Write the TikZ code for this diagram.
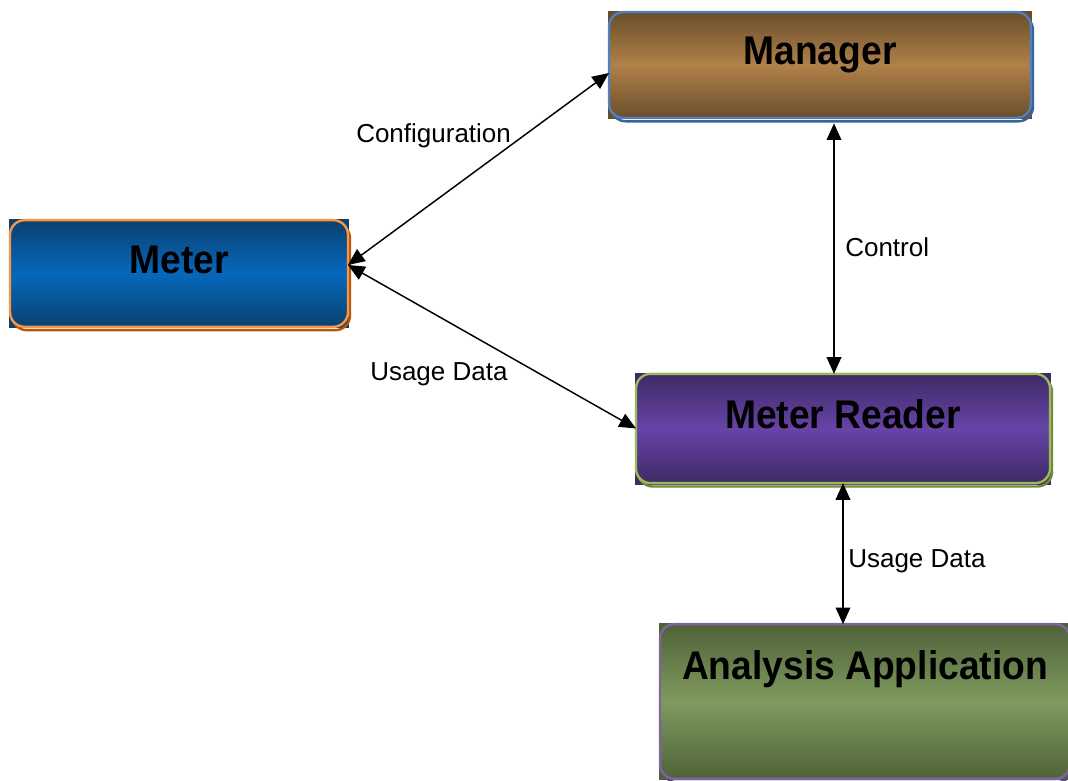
\documentclass[tikz,border=0pt]{standalone}
\usepackage{fontspec}
\setmainfont{Liberation Sans}
\newfontfamily\boxfont[FakeStretch=0.93]{Liberation Sans}
\usetikzlibrary{arrows.meta,backgrounds,positioning}
\definecolor{mandark}{HTML}{6A4E2B}
\definecolor{manmid}{HTML}{B0814A}
\definecolor{manline}{HTML}{4F81BD}
\definecolor{manshad}{HTML}{3A6296}
\definecolor{metdark}{HTML}{0A416F}
\definecolor{metmid}{HTML}{0668BC}
\definecolor{metline}{HTML}{F79646}
\definecolor{metshad}{HTML}{B65708}
\definecolor{mrdark}{HTML}{3F2966}
\definecolor{mrmid}{HTML}{6744A6}
\definecolor{mrline}{HTML}{9BBB59}
\definecolor{mrshad}{HTML}{71893F}
\definecolor{aadark}{HTML}{4F6238}
\definecolor{aamid}{HTML}{7F9B5F}
\definecolor{aaline}{HTML}{8064A2}
\definecolor{aashad}{HTML}{5F4A7A}

\begin{document}
\begin{tikzpicture}[x=0.75pt,y=-0.75pt,
    ubox/.style={rectangle,rounded corners=11pt,line width=1.8pt,outer sep=0pt,
      inner sep=0pt,text height=0pt,text depth=0pt,
      font=\boxfont\bfseries\fontsize{30}{30}\selectfont},
    lbl/.style={anchor=base west,inner sep=0pt,font=\fontsize{19.5}{20}\selectfont},
    biarr/.style={{Triangle[length=12.5pt,width=11pt]}-{Triangle[length=12.5pt,width=11pt]},line width=1.1pt}]
 \useasboundingbox (0,0) rectangle (1068,781);
 \node[ubox,draw=manline,top color=mandark,bottom color=mandark,middle color=manmid,
   minimum width=316.5pt,minimum height=79.5pt] (man) at (820,65) {Manager};
 \node[ubox,draw=metline,top color=metdark,bottom color=metdark,middle color=metmid,
   minimum width=253.5pt,minimum height=80pt] (met) at (179,273.5) {Meter};
 \node[ubox,draw=mrline,top color=mrdark,bottom color=mrdark,middle color=mrmid,
   minimum width=310.5pt,minimum height=82pt] (mr) at (843,428.5) {Meter Reader};
 \node[ubox,draw=aaline,top color=aadark,bottom color=aadark,middle color=aamid,
   minimum width=307.5pt,minimum height=116pt,text depth=33pt] (aa) at (865,701.5) {Analysis Application};
 \begin{scope}[on background layer]
  \foreach \n/\d/\s in {man/mandark/manshad,met/metdark/metshad,mr/mrdark/mrshad,aa/aadark/aashad} {
   \fill[\d] ([shift={(-1pt,1pt)}]\n.north west) rectangle ([shift={(1pt,-1pt)}]\n.south east);
   \draw[\s,line width=1.8pt,rounded corners=11pt] ([shift={(1.5pt,-2.5pt)}]\n.north west)
     rectangle ([shift={(1.5pt,-2.5pt)}]\n.south east);
  }
 \end{scope}
 \draw[biarr] ([yshift=6.4pt]met.east) -- ([yshift=-6pt]man.west);
 \draw[biarr] ([yshift=6.4pt]met.east) -- (mr.west);
 \draw[biarr] ([xshift=10.5pt,yshift=-4pt]man.south) -- ([xshift=-6.75pt]mr.north);
 \draw[biarr] (mr.south) -- (mr.south |- aa.north);
 \node[lbl] (lconf) at (356,143) {Configuration};
 \node[lbl] (lctrl) at (845,257) {Control};
 \node[lbl] (luse1) at (370,380) {Usage Data};
 \node[lbl] (luse2) at (848,567) {Usage Data};
\end{tikzpicture}
\end{document}
